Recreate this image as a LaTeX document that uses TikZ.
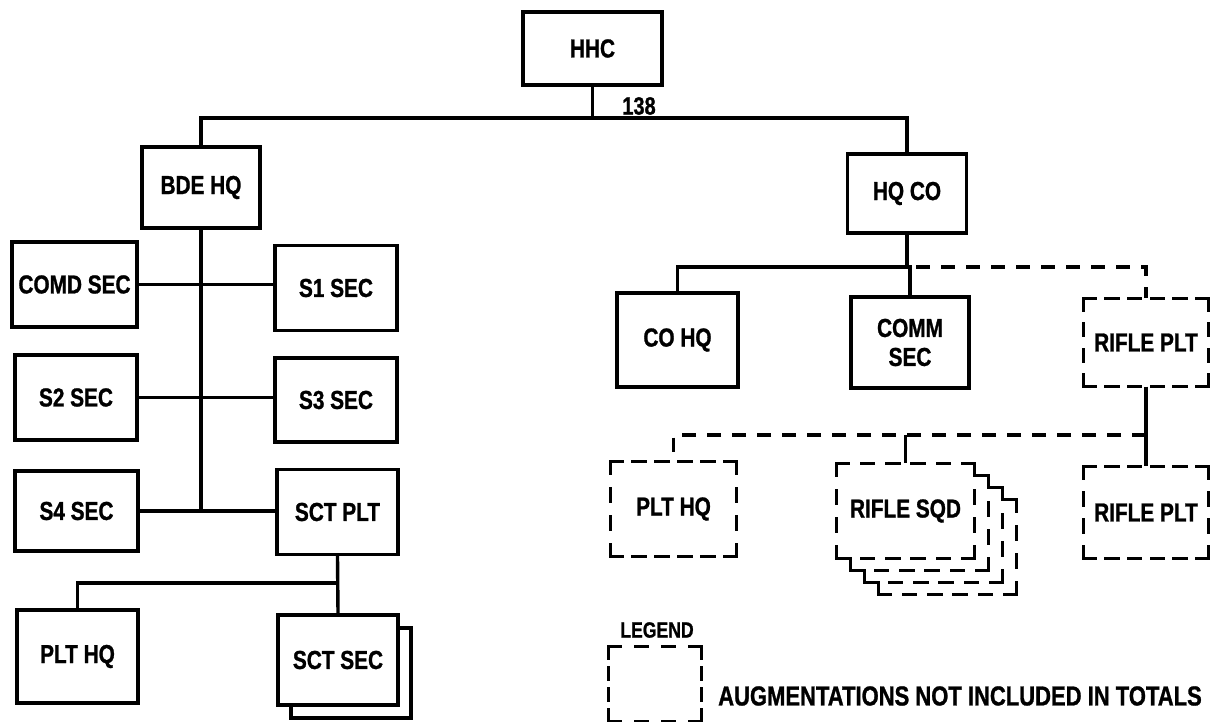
\documentclass[tikz,border=0pt]{standalone}
\usepackage{fontspec}
\usetikzlibrary{calc}
\newfontfamily\lbl{Liberation Sans}[FakeStretch=0.8,FakeBold=1]
% one dashed side that begins and ends with a dash
\newcommand\dseg[2]{%
  \path let \p1=(#1), \p2=(#2) in
    \pgfextra{\pgfmathsetmacro\tmplen{veclen(\x2-\x1,\y2-\y1)}\global\let\seglen\tmplen};
  \pgfmathsetmacro\segn{max(2,round((\seglen+9)/24))}%
  \pgfmathsetmacro\seggap{(\seglen-\segn*12)/(\segn-1)}%
  \draw[line width=3.4pt,line cap=rect,dash pattern=on 12pt off \seggap pt] (#1) -- (#2);}
\newcommand\augsides[1]{%
  \dseg{#1.north west}{#1.north east}\dseg{#1.north east}{#1.south east}%
  \dseg{#1.south west}{#1.south east}\dseg{#1.north west}{#1.south west}}
\begin{document}
\begin{tikzpicture}[x=1pt,y=-1pt,
  sz/.style n args={2}{minimum width=#1pt,minimum height=#2pt},
  box/.style={draw,line width=3.4pt,inner sep=0pt,fill=white,align=center,
    font=\lbl\bfseries\fontsize{26}{29}\selectfont},
  aug/.style={box,draw=none},
  wire/.style={line width=3.4pt},
  dwire/.style={line width=3.4pt,dash pattern=on 14pt off 11pt},
  txt/.style={inner sep=0pt,font=\lbl\bfseries\fontsize{#1}{#1}\selectfont}]
\useasboundingbox (0,0) rectangle (1216,722);

% bus coordinates
\coordinate (bus1) at (0,118);
\coordinate (bus2) at (0,583);
\coordinate (bus3) at (0,267);
\coordinate (bus4) at (0,435);

% top
\node[box,sz={139}{73}] (hhc) at (592.5,48.5) {HHC};
\node[txt=25] (n138) at (639,106) {138};

% left branch
\node[box,sz={118}{81}] (bde) at (201,187.5) {BDE HQ};
\node[box,sz={125}{85}] (comd) at (74.5,284.5) {COMD SEC};
\node[box,sz={122}{85}] (s1) at (336,288) {S1 SEC};
\node[box,sz={122}{85}] (s2) at (76,397.5) {S2 SEC};
\node[box,sz={122}{84}] (s3) at (336,400) {S3 SEC};
\node[box,sz={123}{80}] (s4) at (76.5,511) {S4 SEC};
\node[box,sz={121}{85}] (sctplt) at (337.5,512) {SCT PLT};
\node[box,sz={121}{93}] (plthql) at (77.5,656.5) {PLT HQ};
\node[box,sz={120}{90}] (sctsecb) at (351,673) {};
\node[box,sz={120}{90}] (sctsec) at (338,660) {SCT SEC};

% right branch
\node[box,sz={119}{79}] (hqco) at (907,193.5) {HQ CO};
\node[box,sz={121}{94}] (cohq) at (677.5,340) {CO HQ};
\node[box,sz={118}{91}] (commsec) at (910,342.5) {COMM\\SEC};
\node[aug,sz={122}{85}] (rplt1) at (1146,342.5) {RIFLE PLT}; \augsides{rplt1}
\node[aug,sz={123}{92}] (plthqr) at (673.5,509) {PLT HQ}; \augsides{plthqr}
\node[aug,sz={135}{92}] (rsqd3) at (947.5,547) {}; \augsides{rsqd3}
\node[aug,sz={135}{92}] (rsqd2) at (933.5,535) {}; \augsides{rsqd2}
\node[aug,sz={135}{92}] (rsqd1) at (919.5,523) {}; \augsides{rsqd1}
\node[aug,sz={135}{92}] (rsqd) at (905.5,511) {RIFLE SQD}; \augsides{rsqd}
\node[aug,sz={122}{89}] (rplt2) at (1146,512.5) {RIFLE PLT}; \augsides{rplt2}

% legend
\node[txt=22] (legtitle) at (657,630) {LEGEND};
\node[aug,sz={90}{72}] (legbox) at (655,684) {}; \augsides{legbox}
\node[txt=27.5,anchor=west] (legtxt) at (718,696) {AUGMENTATIONS NOT INCLUDED IN TOTALS};

% connectors: top
\draw[wire] (hhc.south) -- (hhc.south |- bus1);
\draw[wire] (bde.north) -- (bde.north |- bus1) -- (hqco.north |- bus1) -- (hqco.north);

% left
\draw[wire] (bde.south) -- (bde.south |- s4.east);
\draw[wire] (comd.east) -- (comd.east -| s1.west);
\draw[wire] (s2.east) -- (s2.east -| s3.west);
\draw[wire] (s4.east) -- (s4.east -| sctplt.west);
\draw[wire] (sctplt.south) -- (sctsec.north);
\draw[wire] (sctplt.south |- bus2) -| (plthql.north);

% right
\draw[wire] (hqco.south) -- (hqco.south |- bus3);
\draw[wire] (cohq.north) |- (hqco.south |- bus3) -| (commsec.north);
\draw[dwire,dash phase=16pt] (hqco.south |- bus3) -| (rplt1.north);
\draw[wire] (rplt1.south) -- (rplt2.north);
\draw[dwire] (rplt1.south |- bus4) -- (plthqr.north |- bus4) -- (plthqr.north);
\draw[wire] (rsqd.north |- bus4) -- (rsqd.north);
\end{tikzpicture}
\end{document}
